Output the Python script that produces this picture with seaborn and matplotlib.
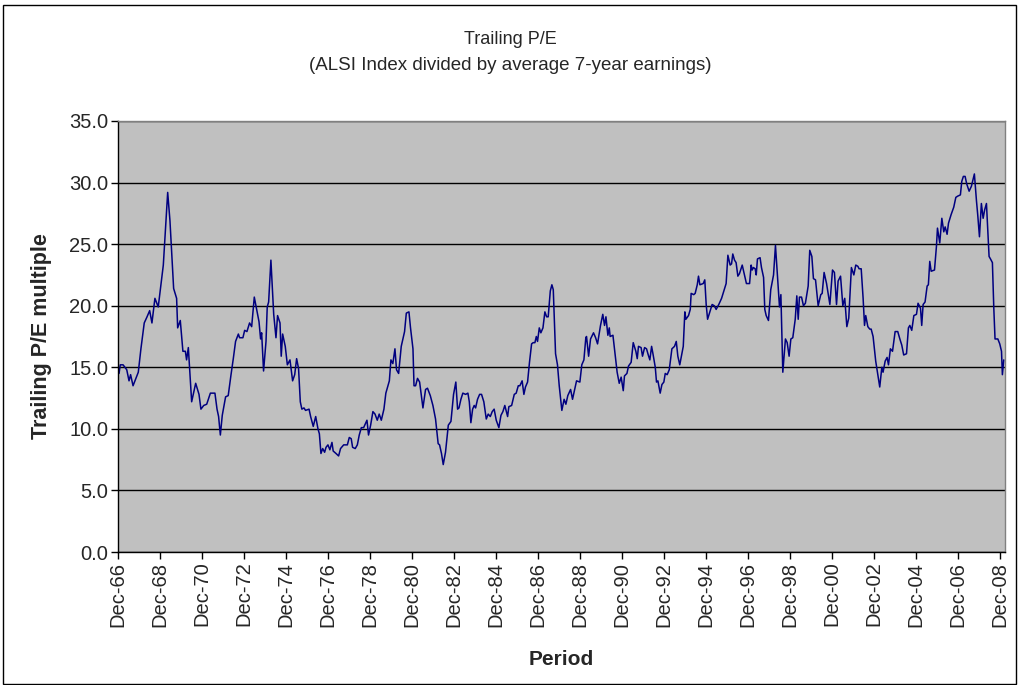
import matplotlib
matplotlib.use("Agg")
import matplotlib.pyplot as plt
from matplotlib.patches import Rectangle
import seaborn as sns
import pandas as pd

# months since Dec-66 and trailing P/E
month_index = [
    0.6, 1.3, 2.9, 5.0, 6.3, 7.2, 8.6, 11.6, 13.1, 15.0, 16.6, 18.1, 19.4, 21.1, 23.0,
    24.6, 25.9, 28.4, 29.7, 31.8, 33.5, 34.1, 35.6, 37.1, 38.5, 39.2, 40.2, 42.1, 44.4,
    46.3, 47.4, 49.0, 50.7, 52.8, 55.4, 56.6, 57.5, 58.5, 59.6, 61.5, 63.0, 64.6, 65.9,
    67.2, 68.8, 69.5, 71.4, 72.4, 73.7, 75.2, 76.4, 77.9, 80.6, 81.5, 82.1,
    83.2, 84.6, 85.3, 86.1, 87.4, 89.0, 90.3, 91.2, 92.6, 93.3, 94.1, 95.6, 96.8, 98.3,
    99.8, 101.0, 102.1, 103.2, 104.2, 105.1, 106.3, 107.2, 109.2, 110.1, 111.6, 113.0,
    114.3, 115.1, 116.0, 117.0, 118.1, 118.9, 120.0, 121.1, 122.3, 123.0, 124.6, 126.1,
    127.2, 129.0, 131.1, 132.2, 133.3, 134.1, 135.6, 136.8, 137.9, 139.1, 140.4, 142.3,
    143.2, 144.4, 145.7, 146.9, 148.2, 149.3, 150.5, 152.0, 153.1, 155.1, 156.0, 157.1,
    158.3, 159.2, 160.4, 161.9, 163.8, 164.8, 166.3,
    167.2, 168.6, 169.2, 170.1, 171.2, 172.4, 174.3, 175.8, 176.9, 178.5, 180.0, 181.5,
    183.0, 183.8, 184.9, 185.9, 187.2, 188.8, 190.3, 191.8, 193.1, 194.1, 194.9, 196.0,
    197.1, 198.7, 200.0, 200.8, 201.7, 202.7, 203.6, 204.4, 205.5, 206.7, 207.8, 209.1,
    210.5, 211.6, 212.8, 213.9, 215.0, 216.2, 217.7, 218.9, 220.0, 221.1, 222.7, 223.4,
    225.0, 226.5, 227.6, 228.8, 229.7, 231.0, 232.0, 232.9, 234.1, 235.2, 236.4, 237.3,
    238.3, 239.1, 239.8, 240.8, 241.7, 242.9, 244.0, 245.0, 245.9, 247.1, 248.0, 248.8,
    250.1,
    251.2, 252.2, 253.7, 255.0, 256.0, 257.1, 258.7, 259.8, 261.0, 262.1, 264.0, 265.1,
    266.3, 267.4, 267.8, 269.0, 270.1, 271.8, 273.0, 274.1, 275.8, 277.1, 278.1, 278.9,
    280.0, 280.8, 281.3, 282.9, 284.2, 285.3, 286.5, 287.6, 288.8, 289.5, 290.9, 291.8,
    293.3, 294.5, 296.0, 296.8, 297.5, 299.0, 299.8, 301.0, 302.1, 303.1, 304.0, 305.0,
    305.9, 307.1, 307.8, 308.6, 309.9, 310.9, 312.0, 312.8, 313.9, 315.1, 316.6, 318.1,
    319.1, 320.0, 321.1, 323.1, 324.0, 324.6, 326.1, 327.1, 327.6, 329.1, 329.9, 331.1,
    331.8, 332.6, 334.5,
    335.4, 336.2, 337.0, 338.5, 339.6, 340.8, 341.9, 343.4, 345.0, 346.5, 347.6, 348.6,
    349.9, 350.7, 351.4, 352.4, 353.3, 354.3, 355.2, 356.8, 357.9, 359.2, 361.0, 361.9,
    362.5, 363.2, 364.2, 364.8, 365.5, 367.0, 367.8, 369.0, 369.7, 370.5, 371.8, 373.1,
    374.7, 375.8, 377.3, 378.1, 378.9, 380.0, 381.5, 382.5, 383.6, 384.6, 385.7, 387.1,
    388.0, 388.8, 389.5, 390.7, 391.8, 392.9, 394.5, 395.4, 396.6, 397.5, 398.7, 400.2,
    401.7, 402.5, 403.6, 405.0, 406.9, 408.4, 409.5, 410.7, 411.6, 413.0, 414.3, 415.4,
    416.6, 417.7,
    419.2, 420.6, 421.7, 422.9, 423.6, 424.8, 425.9, 426.7, 427.4, 428.6, 429.7, 430.5,
    431.6, 433.1, 434.3, 435.4, 436.6, 437.3, 438.5, 439.6, 440.4, 441.5, 442.7, 444.2,
    445.7, 446.9, 448.0, 449.1, 450.7, 451.8, 452.6, 453.7, 454.9, 456.4, 457.3, 458.7,
    459.4, 460.2, 461.3, 462.5, 463.2, 464.0, 464.8, 466.7, 467.8, 468.4, 469.7, 470.9,
    472.0, 472.8, 473.9, 474.7, 476.2, 477.7, 478.9, 480.0, 481.5, 482.3, 483.2, 484.2,
    485.1, 486.5, 487.8, 489.5, 490.7, 491.4, 492.4, 493.5, 494.5, 495.4, 496.4, 497.9,
    498.7, 499.8, 500.6, 501.3, 502.9, 504.0, 505.0, 505.5, 506.3,
]
pe = [
    14.5, 15.2, 15.2, 14.8, 13.9, 14.4, 13.5, 14.6, 16.5, 18.6, 19.1, 19.6, 18.6, 20.6, 19.9,
    21.8, 23.3, 29.2, 26.9, 21.4, 20.6, 18.2, 18.8, 16.3, 16.3, 15.6, 16.6, 12.2, 13.7,
    12.8, 11.6, 11.9, 12.0, 12.9, 12.9, 11.6, 11.0, 9.5, 11.1, 12.6, 12.7, 14.4, 15.7,
    17.1, 17.7, 17.4, 17.4, 18.0, 17.9, 18.6, 18.3, 20.7, 18.7, 17.3, 17.8,
    14.7, 17.1, 19.9, 20.3, 23.7, 19.3, 17.4, 19.2, 18.6, 15.9, 17.7, 16.7, 15.2, 15.6,
    13.9, 14.4, 15.7, 14.9, 12.2, 11.6, 11.7, 11.5, 11.6, 11.0, 10.2, 11.0,
    10.0, 9.6, 8.0, 8.4, 8.1, 8.5, 8.7, 8.3, 8.9, 8.2, 8.0, 7.8,
    8.4, 8.7, 8.7, 9.3, 9.2, 8.5, 8.4, 8.7, 9.5, 10.1, 10.1, 10.7,
    9.5, 10.3, 11.4, 11.2, 10.7, 11.2, 10.7, 11.6, 12.9, 13.9, 15.6, 15.3,
    16.5, 14.8, 14.5, 16.7, 17.9, 19.4, 19.5,
    18.2, 16.5, 13.5, 13.5, 14.1, 13.8, 11.7, 13.2, 13.3, 12.7, 11.9, 10.8,
    8.8, 8.7, 8.0, 7.1, 8.1, 10.3, 10.6, 12.8, 13.8, 11.6, 11.7, 12.4,
    12.9, 12.8, 12.9, 12.2, 10.5, 11.6, 11.9, 11.7, 12.4, 12.8, 12.8, 12.2,
    10.8, 11.2, 11.0, 11.4, 11.6, 10.7, 10.1, 11.1, 11.4, 11.9, 11.0, 11.8,
    11.9, 12.8, 12.9, 13.5, 13.5, 13.9, 12.8, 13.4, 13.8, 15.4, 16.9, 17.0,
    17.0, 17.5, 17.1, 18.2, 17.8, 18.2, 19.5, 19.1, 19.1, 21.2, 21.7, 21.3,
    16.1,
    15.2, 13.5, 11.5, 12.4, 12.0, 12.7, 13.2, 12.4, 13.2, 13.9, 13.8, 15.2,
    15.6, 17.4, 17.5, 15.9, 17.3, 17.8, 17.4, 16.9, 18.4, 19.3, 18.4, 19.1,
    17.6, 18.2, 17.5, 17.6, 16.0, 14.6, 13.7, 14.2, 13.1, 14.3, 14.5, 15.1,
    15.4, 17.0, 16.3, 15.7, 16.7, 16.6, 15.9, 16.6, 16.5, 16.0, 15.6, 16.7,
    16.0, 15.0, 13.8, 13.9, 12.9, 13.6, 13.8, 14.5, 14.4, 14.8, 16.5, 16.7,
    17.1, 15.9, 15.2, 16.7, 19.5, 18.9, 19.2, 19.7, 21.0, 20.9, 21.0, 21.7,
    22.4, 21.7, 21.8,
    22.1, 20.1, 18.9, 19.6, 20.1, 20.0, 19.7, 20.1, 20.6, 21.3, 21.8, 24.1,
    23.3, 23.4, 24.2, 23.7, 23.5, 22.4, 22.6, 23.3, 22.6, 21.8, 21.8, 23.3,
    22.9, 23.1, 23.0, 22.5, 23.8, 23.9, 23.1, 22.3, 19.7, 19.2, 18.8, 21.3,
    22.5, 24.9, 21.6, 19.9, 20.9, 14.6, 17.3, 17.0, 15.9, 17.3, 17.4, 18.9,
    20.8, 18.9, 20.7, 20.7, 20.0, 20.2, 21.6, 24.5, 24.0, 22.2, 22.1, 20.0,
    20.9, 21.0, 22.7, 21.8, 20.1, 22.9, 22.7, 20.1, 22.0, 22.4, 20.0, 20.6,
    18.3, 19.0,
    23.1, 22.5, 23.3, 23.2, 23.0, 23.0, 20.6, 18.4, 19.2, 18.3, 18.1, 18.1,
    17.5, 15.5, 14.4, 13.4, 15.0, 14.6, 15.5, 15.8, 15.2, 16.5, 16.3, 17.9,
    17.9, 17.3, 16.8, 16.0, 16.1, 18.2, 18.4, 18.0, 19.2, 19.3, 20.2, 19.8,
    18.4, 20.1, 20.3, 21.6, 21.7, 23.6, 22.8, 22.9, 24.8, 26.3, 25.1, 27.1,
    26.0, 26.4, 25.8, 26.7, 27.4, 28.0, 28.8, 28.9, 29.0, 30.1, 30.5, 30.5,
    29.9, 29.3, 29.7, 30.7, 28.5, 27.4, 25.6, 28.3, 27.1, 27.8, 28.3, 24.0,
    23.8, 23.5, 19.8, 17.3, 17.3, 16.9, 16.3, 14.4, 15.6,
]

tick_months = list(range(0, 505, 24))
tick_labels = [
    "Dec-66", "Dec-68", "Dec-70", "Dec-72", "Dec-74", "Dec-76", "Dec-78", "Dec-80",
    "Dec-82", "Dec-84", "Dec-86", "Dec-88", "Dec-90", "Dec-92", "Dec-94", "Dec-96",
    "Dec-98", "Dec-00", "Dec-02", "Dec-04", "Dec-06", "Dec-08",
]
y_ticks = [0, 5, 10, 15, 20, 25, 30, 35]

df = pd.DataFrame({"month": month_index, "pe": pe})

sns.set_style("white")
plt.rcParams["font.family"] = ["Liberation Sans", "DejaVu Sans"]

fig = plt.figure(figsize=(10.2, 6.85), dpi=100)
ax = fig.add_axes([118 / 1020, 1 - 552 / 685, (1005 - 118) / 1020, (552 - 121) / 685])
ax.set_facecolor("#C0C0C0")

sns.lineplot(data=df, x="month", y="pe", ax=ax, color="#000080", linewidth=1.1,
             estimator=None, sort=False)

ax.set_xlim(0, 507)
ax.set_ylim(0, 35)
ax.set_xticks(tick_months)
ax.set_xticklabels(tick_labels, rotation=90, fontsize=14.5)
ax.set_yticks(y_ticks)
ax.set_yticklabels([f"{v:.1f}" for v in y_ticks], fontsize=14.5)
ax.tick_params(axis="both", direction="out", length=5, width=1, color="black",
               bottom=True, left=True, pad=2)
ax.yaxis.grid(True, color="black", linewidth=1)
ax.set_axisbelow(True)
for side in ["top", "right"]:
    ax.spines[side].set_color("#808080")
    ax.spines[side].set_linewidth(1)
for side in ["left", "bottom"]:
    ax.spines[side].set_color("black")
    ax.spines[side].set_linewidth(1)

ax.set_xlabel("Period", fontsize=15, fontweight="bold", labelpad=17)
ax.set_ylabel("Trailing P/E multiple", fontsize=15.5, fontweight="bold", labelpad=12)

fig.text(0.5, 1 - 40 / 685, "Trailing P/E", ha="center", va="center", fontsize=13)
fig.text(0.5, 1 - 66 / 685, "(ALSI Index divided by average 7-year earnings)",
         ha="center", va="center", fontsize=13.5)

fig.patches.append(Rectangle((3 / 1020, 0.002), 1013 / 1020, 1 - 5 / 685 - 0.002,
                             transform=fig.transFigure, fill=False,
                             edgecolor="black", linewidth=1))

fig.savefig("out.png", dpi=100)
